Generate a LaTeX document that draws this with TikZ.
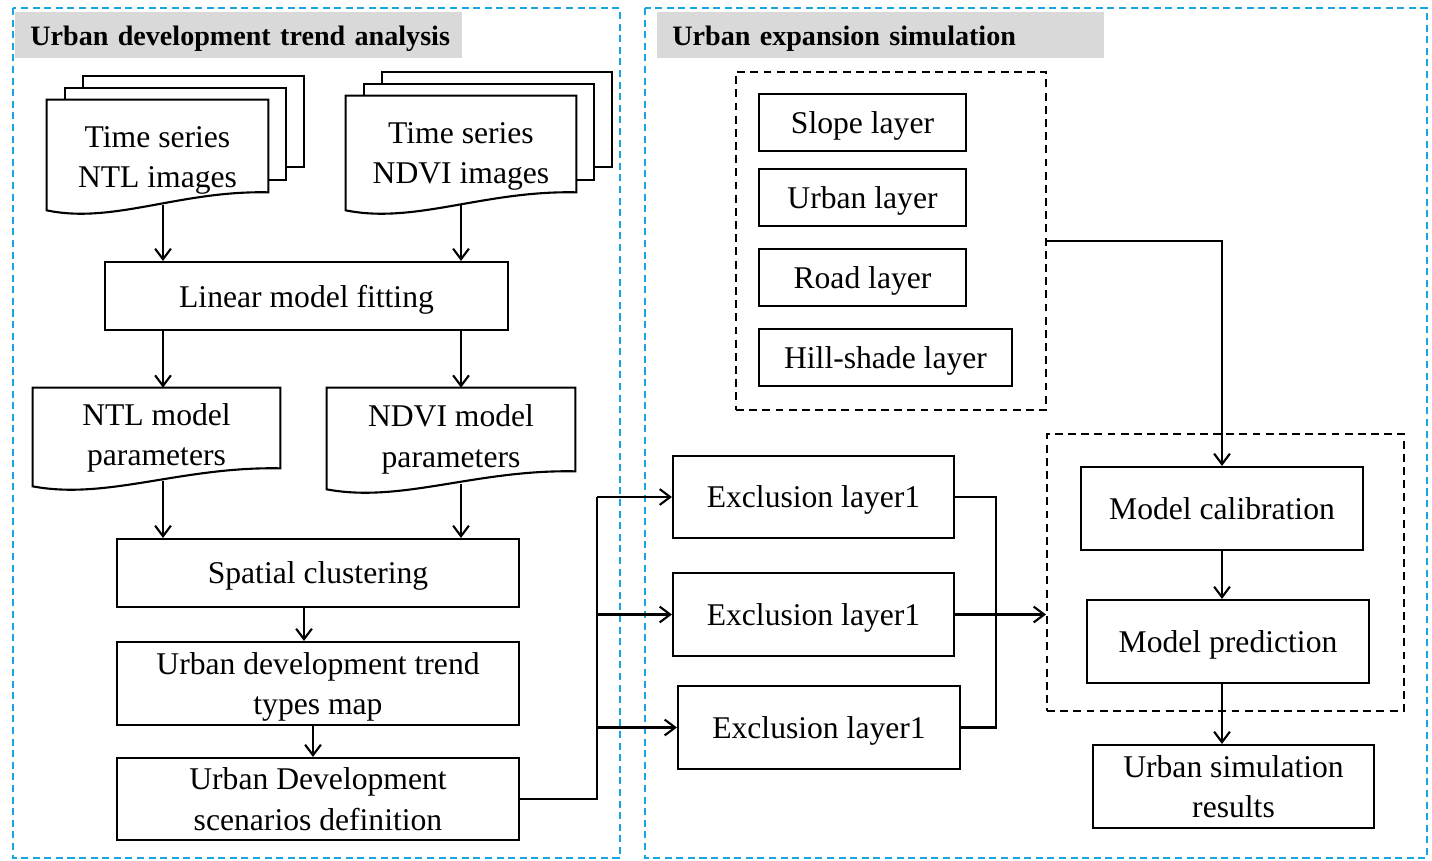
\documentclass[tikz,border=0pt]{standalone}
\usepackage{fontspec}
\setmainfont{Liberation Serif}
\usetikzlibrary{arrows.meta, calc, positioning, backgrounds}

\definecolor{framecyan}{RGB}{25,165,225}
\definecolor{titlegray}{RGB}{217,217,217}

\tikzset{
    box/.style={draw, line width=1.2pt, align=center, inner sep=0pt, text depth=0pt},
    doc/.style={align=center, inner sep=0pt, text depth=0pt},
    sheet/.style={draw, line width=1.2pt, fill=white},
    link/.style={draw, line width=1.2pt},
    group/.style={draw, line width=1.2pt, dash pattern=on 4.5pt off 3pt, inner sep=0pt},
    frame/.style={draw=framecyan, line width=1.1pt, dash pattern=on 4pt off 2.6pt},
    title/.style={fill=titlegray, anchor=north west, inner xsep=0.3cm, inner ysep=0pt,
        text width=8.34cm, minimum height=0.92cm, align=left, text depth=0pt,
        font=\bfseries\fontsize{16}{19}\selectfont}
}

% wavy document outline round a text node, top raised by #1
\newcommand{\docsheet}[2][0]{%
    \begin{pgfonlayer}{background}
    \draw[sheet] ($(#2.north west)+(0,-#1)$) -- ($(#2.north east)+(0,-#1)$)
        -- ($(#2.south east)+(0,-13)$)
        .. controls ($(#2.south west)!0.6!(#2.south east)+(0,-15)$)
        and ($(#2.south west)!0.3!(#2.south east)+(0,19)$)
        .. ($(#2.south west)+(0,5)$) -- cycle;
    \end{pgfonlayer}}

% two sheets behind a document
\newcommand{\docstack}[2][0]{%
    \begin{pgfonlayer}{background}
    \draw[sheet] ($(#2.north west)+(36,-24-#1)$) rectangle ($(#2.south east)+(36,-38)$);
    \draw[sheet] ($(#2.north west)+(18,-12-#1)$) rectangle ($(#2.south east)+(18,-25)$);
    \end{pgfonlayer}
    \docsheet[#1]{#2}}

\begin{document}
\begin{tikzpicture}[x=0.02cm, y=-0.02cm,
    >={Straight Barb[length=6pt,width=9pt]},
    font=\fontsize{18}{22.8}\selectfont]
    \useasboundingbox (0,0) rectangle (1432,861);

    % panels
    \draw[frame] (13,8) rectangle (620,858);
    \draw[frame] (645,8) rectangle (1427,858);
    \node[title] (trendtitle) at (15,12) {\mbox{Urban development trend analysis}};
    \node[title] (simtitle) at (657,12) {Urban expansion simulation};

    % trend analysis
    \node[doc, minimum width=4.42cm, minimum height=1.92cm] (ntl) at (157.5,157) {Time series\\NTL images};
    \node[doc, minimum width=4.6cm, minimum height=2.08cm] (ndvi) at (461,153) {Time series\\NDVI images};
    \docstack[9]{ntl}
    \docstack[5]{ndvi}

    \node[box, minimum width=8.06cm, minimum height=1.36cm] (linfit) at (306.5,296) {Linear model fitting};

    \node[doc, minimum width=4.94cm, minimum height=1.86cm] (ntlpar) at (156.5,434.5) {NTL model\\parameters};
    \node[doc, minimum width=4.96cm, minimum height=1.92cm] (ndvipar) at (451,436) {NDVI model\\parameters};
    \docsheet{ntlpar}
    \docsheet{ndvipar}

    \node[box, minimum width=8.04cm, minimum height=1.36cm] (spatial) at (318,573) {Spatial clustering};
    \node[box, minimum width=8.04cm, minimum height=1.66cm] (typemap) at (318,683.5) {Urban development trend\\types map};
    \node[box, minimum width=8.04cm, minimum height=1.64cm] (scen) at (318,799) {Urban Development\\scenarios definition};

    \coordinate (colL) at (163,0);
    \coordinate (colR) at (461,0);
    \draw[link, ->] (ntl.south -| colL) -- (colL |- linfit.north);
    \draw[link, ->] (ndvi.south -| colR) -- (colR |- linfit.north);
    \draw[link, ->] (linfit.south -| colL) -- (colL |- ntlpar.north);
    \draw[link, ->] (linfit.south -| colR) -- (colR |- ndvipar.north);
    \draw[link, ->] (ntlpar.south -| colL) -- (colL |- spatial.north);
    \draw[link, ->] (ndvipar.south -| colR) -- (colR |- spatial.north);
    \draw[link, ->] ($(spatial.south)+(-14,0)$) -- ($(typemap.north)+(-14,0)$);
    \draw[link, ->] ($(typemap.south)+(-5,0)$) -- ($(scen.north)+(-5,0)$);

    % expansion simulation
    \node[group, minimum width=6.2cm, minimum height=6.76cm] (layers) at (891,241) {};
    \node[box, minimum width=4.14cm, minimum height=1.14cm] (slope) at (862.5,122.5) {Slope layer};
    \node[box, minimum width=4.14cm, minimum height=1.14cm] (urban) at (862.5,197.5) {Urban layer};
    \node[box, minimum width=4.14cm, minimum height=1.14cm] (road) at (862.5,277.5) {Road layer};
    \node[box, minimum width=5.06cm, minimum height=1.14cm] (hill) at (885.5,357.5) {Hill-shade layer};

    \node[box, minimum width=5.62cm, minimum height=1.64cm] (excl1) at (813.5,497) {Exclusion layer1};
    \node[box, minimum width=5.62cm, minimum height=1.66cm] (excl2) at (813.5,614.5) {Exclusion layer1};
    \node[box, minimum width=5.64cm, minimum height=1.66cm] (excl3) at (819,727.5) {Exclusion layer1};

    \node[group, minimum width=7.14cm, minimum height=5.54cm] (model) at (1225.5,572.5) {};
    \node[box, minimum width=5.64cm, minimum height=1.66cm] (calib) at (1222,508.5) {Model calibration};
    \node[box, minimum width=5.64cm, minimum height=1.66cm] (pred) at (1228,641.5) {Model prediction};
    \node[box, minimum width=5.62cm, minimum height=1.66cm] (result) at (1233.5,786.5) {Urban simulation\\results};

    \coordinate (fork) at (597,799);
    \draw[link] (scen.east) -- (fork) -- (fork |- excl1.west);
    \draw[link, ->] (fork |- excl1.west) -- (excl1.west);
    \draw[link, ->] (fork |- excl2.west) -- (excl2.west);
    \draw[link, ->] (fork |- excl3.west) -- (excl3.west);

    \coordinate (join) at (996,497);
    \draw[link] (excl1.east) -- (join) -- (join |- excl3.east) -- (excl3.east);
    \draw[link, ->] (excl2.east) -- (excl2.east -| model.west);

    \draw[link, ->] (layers.east) -| (calib.north);
    \draw[link, ->] (calib.south) -- (calib.south |- pred.north);
    \draw[link, ->] (pred.south -| calib.south) -- (calib.south |- result.north);
\end{tikzpicture}
\end{document}
